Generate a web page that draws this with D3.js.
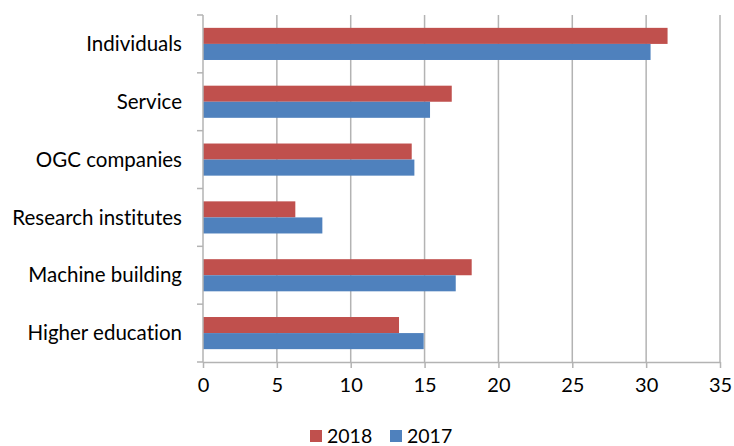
<!DOCTYPE html>
<html><head><meta charset="utf-8">
<script src="https://cdn.jsdelivr.net/npm/d3@7"></script>
<style>body{margin:0;background:#fff}svg{display:block}text{font-family:Lato,"Open Sans",sans-serif;fill:#000;font-variant-ligatures:none;font-feature-settings:"liga" 0}</style>
</head><body><svg id="c" width="734" height="446"></svg>
<script>
const categories = ["Individuals","Service","OGC companies","Research institutes","Machine building","Higher education"];
const series = ["2018","2017"];
const values2018 = [31.45,16.84,14.13,6.25,18.19,13.27];
const values2017 = [30.3,15.37,14.31,8.08,17.11,14.94];
const xTicks = [0,5,10,15,20,25,30,35];
const colors = {"2018":"#C0504D","2017":"#4F81BD"};

const svg = d3.select("#c");
const m = {l:203, r:720, t:15, b:362};
const x = d3.scaleLinear().domain([0,35]).range([m.l,m.r]);
const y = d3.scaleBand().domain(categories).range([m.t,m.b]).paddingInner(0).paddingOuter(0);
const inner = d3.scaleBand().domain(series).range([0,y.bandwidth()]).paddingInner(0).paddingOuter(0.8);

// gridlines
svg.append("g").selectAll("line").data(xTicks.slice(1)).join("line")
  .attr("x1",d=>x(d)).attr("x2",d=>x(d)).attr("y1",m.t).attr("y2",m.b)
  .attr("stroke","#b3b3b3").attr("stroke-width",1.5);

// bars
const data = [];
categories.forEach((c,i)=>{data.push({c,s:"2018",v:values2018[i]});data.push({c,s:"2017",v:values2017[i]});});
svg.append("g").selectAll("rect").data(data).join("rect")
  .attr("x",x(0)).attr("y",d=>y(d.c)+inner(d.s)).attr("height",inner.bandwidth())
  .attr("width",d=>x(d.v)-x(0)).attr("fill",d=>colors[d.s]);

// x axis
const xa = svg.append("g").attr("transform",`translate(0,${m.b})`)
  .call(d3.axisBottom(x).tickValues(xTicks).tickSize(6).tickSizeOuter(0).tickPadding(10));
xa.select(".domain").attr("stroke","#b3b3b3").attr("stroke-width",1.5);
xa.selectAll(".tick line").attr("stroke","#b3b3b3").attr("stroke-width",1.5);
xa.selectAll("text").attr("font-size","20px").style("font-family","Lato, 'Open Sans', sans-serif").attr("fill","#000");

// y axis
const ya = svg.append("g");
ya.append("line").attr("x1",m.l).attr("x2",m.l).attr("y1",m.t).attr("y2",m.b).attr("stroke","#b3b3b3").attr("stroke-width",1.5);
const bounds = categories.map(c=>y(c)).concat([m.b]);
ya.selectAll("line.t").data(bounds).join("line").attr("class","t")
  .attr("x1",m.l-6).attr("x2",m.l).attr("y1",d=>d).attr("y2",d=>d).attr("stroke","#b3b3b3").attr("stroke-width",1.5);
ya.selectAll("text").data(categories).join("text")
  .attr("x",m.l-21).attr("y",d=>y(d)+y.bandwidth()/2).attr("dy","0.35em")
  .attr("text-anchor","end").attr("font-size","20.5px").text(d=>d);

// legend
const lg = svg.append("g").attr("transform","translate(310,436)");
const items = [{s:"2018",x:0},{s:"2017",x:80}];
items.forEach(it=>{
  lg.append("rect").attr("x",it.x).attr("y",-6).attr("width",12).attr("height",12).attr("fill",colors[it.s]);
  lg.append("text").attr("x",it.x+17).attr("y",0).attr("dy","0.35em").attr("font-size","19.5px").text(it.s);
});
</script></body></html>
